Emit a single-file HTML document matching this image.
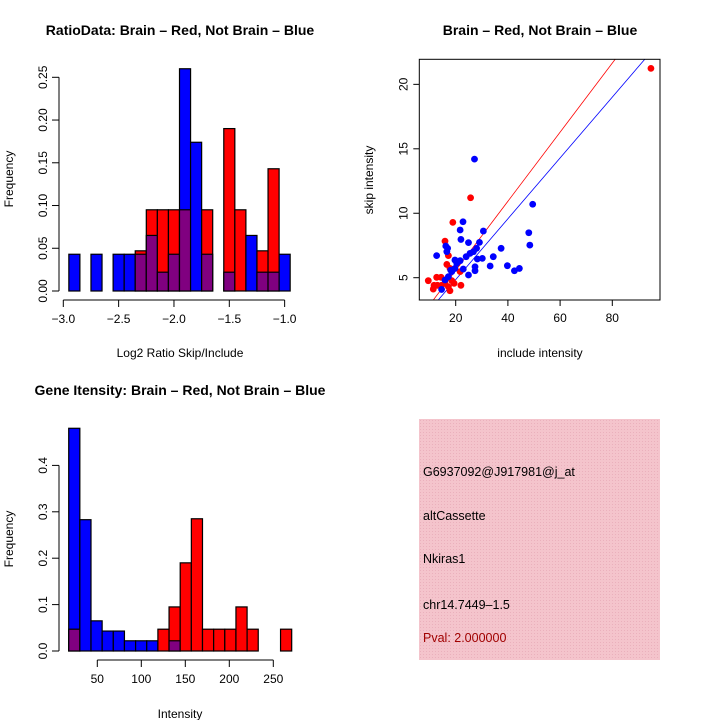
<!DOCTYPE html>
<html><head><meta charset="utf-8"><style>
body{margin:0;background:#fff}
svg{display:block;font-family:"Liberation Sans",sans-serif}
</style></head><body>
<svg id="s" width="720" height="720" viewBox="0 0 720 720">
<rect width="720" height="720" fill="#fff"/>
<defs><pattern id="hatch" width="3" height="3" patternUnits="userSpaceOnUse"><rect width="3" height="3" fill="#f4c4cc"/><rect width="1" height="1" fill="#eab0bc"/></pattern></defs>
<g id="p1"></g>
<g id="p2"></g>
<g id="p3"></g>
<g>
<rect x="419" y="419" width="241" height="241" fill="url(#hatch)"/>
<text x="423" y="476" font-size="12.5">G6937092@J917981@j_at</text>
<text x="423" y="520" font-size="12.5">altCassette</text>
<text x="423" y="563" font-size="12.5">Nkiras1</text>
<text x="423" y="609" font-size="12.5">chr14.7449–1.5</text>
<text x="423" y="642" font-size="12.5" fill="#a00000">Pval: 2.000000</text>
</g>
</svg>
<script>
// ---- Ratio histogram data ----
const ratioBinStart = -2.95;
const ratioBinWidth = 0.1;
const ratioBlue = [0.043,0,0.043,0,0.043,0.043,0.043,0.065,0.022,0.043,0.26,0.174,0.043,0,0.022,0,0.065,0.022,0.022,0.043];
const ratioRed = [0,0,0,0,0,0,0.047,0.095,0.095,0.095,0.095,0,0.095,0,0.19,0.095,0,0.047,0.143,0];
const ratioXTicks = [-3.0,-2.5,-2.0,-1.5,-1.0];
const ratioXTickLabels = ["−3.0","−2.5","−2.0","−1.5","−1.0"];
const ratioYTicks = [0,0.05,0.10,0.15,0.20,0.25];
const ratioYTickLabels = ["0.00","0.05","0.10","0.15","0.20","0.25"];
// ---- Gene intensity histogram data ----
const geneBinStart = 17.5;
const geneBinWidth = 12.67;
const geneBlue = [0.48,0.283,0.065,0.043,0.043,0.022,0.022,0.022,0,0.022,0,0,0,0,0,0,0,0,0,0];
const geneRed = [0.047,0,0,0,0,0,0,0,0.047,0.095,0.19,0.285,0.047,0.047,0.047,0.095,0.047,0,0,0.047];
const geneXTicks = [50,100,150,200,250];
const geneYTicks = [0,0.1,0.2,0.3,0.4];
const geneYTickLabels = ["0.0","0.1","0.2","0.3","0.4"];
// ---- Scatter data ----
const redX = [9.5,11.4,12.7,14.4,11.7,13.0,14.6,15.9,17.2,16.6,18.9,17.8,18.5,19.4,17.8,22.0,25.7,21.7,94.8,15.9,17.2,20.6];
const redY = [4.77,4.12,5.03,5.03,4.41,4.41,4.41,7.84,6.71,6.03,9.29,5.72,4.77,4.56,3.99,4.41,11.2,5.47,21.24,4.56,4.30,6.11];
const blueX = [27.2,22.8,21.7,22.0,30.6,49.5,48.0,48.4,12.7,16.2,16.6,16.9,24.9,29.1,28.0,26.8,28.3,30.2,24.0,34.4,37.4,33.2,39.8,42.5,44.4,27.4,27.4,24.9,22.9,21.7,20.4,19.7,18.1,17.2,15.9,14.6,18.5,25.5,19.7];
const blueY = [14.2,9.34,8.70,7.97,8.62,10.7,8.49,7.53,6.71,7.46,7.02,7.28,7.72,7.74,7.28,7.02,6.45,6.50,6.63,6.63,7.28,5.91,5.93,5.54,5.72,5.85,5.54,5.21,5.67,6.32,6.11,5.72,5.59,5.08,4.82,4.09,5.47,6.89,6.37];
const redFit = [0.21,0.268];
const blueFit = [0.13,0.236];
const scatterXTicks = [20,40,60,80];
const scatterYTicks = [5,10,15,20];

const NS="http://www.w3.org/2000/svg";
function mk(parent,tag,attrs,text){const e=document.createElementNS(NS,tag);for(const k in attrs)e.setAttribute(k,attrs[k]);if(text!==undefined)e.textContent=text;parent.appendChild(e);return e;}

function histogram(g,o){
  const X=v=>o.x0+(v-o.xv0)*o.xs, Y=v=>o.y0-v*o.ys;
  for(let i=0;i<o.blue.length;i++){
    const b=o.blue[i], r=o.red[i];
    const xl=X(o.start+i*o.width), xr=X(o.start+(i+1)*o.width);
    const hi=Math.max(b,r), lo=Math.min(b,r);
    if(hi>0){
      const e=mk(g,'rect',{x:xl,y:Y(hi),width:xr-xl,height:Y(0)-Y(hi),fill:b>=r?'#0000ff':'#ff0000',stroke:'#000','stroke-width':1.2});
      
      
    }
    if(lo>0){
      const e=mk(g,'rect',{x:xl,y:Y(lo),width:xr-xl,height:Y(0)-Y(lo),fill:'#800080',stroke:'#000','stroke-width':1.2});
      
      
    }
  }
  // y axis
  const ya=mk(g,'g',{});
  
  
  mk(ya,'line',{x1:o.yax,x2:o.yax,y1:Y(o.yt[0]),y2:Y(o.yt[o.yt.length-1]),stroke:'#000'});
  o.yt.forEach((v,i)=>{
    mk(ya,'line',{x1:o.yax-7,x2:o.yax,y1:Y(v),y2:Y(v),stroke:'#000'});
    const t=mk(ya,'text',{x:0,y:0,'font-size':12,'text-anchor':'middle',transform:`translate(${o.yax-12},${Y(v)}) rotate(-90)`},o.ytl[i]);
    
    
  });
  const xa=mk(g,'g',{});
  
  
  mk(xa,'line',{x1:X(o.xt[0]),x2:X(o.xt[o.xt.length-1]),y1:o.xay,y2:o.xay,stroke:'#000'});
  o.xt.forEach((v,i)=>{
    mk(xa,'line',{x1:X(v),x2:X(v),y1:o.xay,y2:o.xay+7,stroke:'#000'});
    const t=mk(xa,'text',{x:X(v),y:o.xay+23,'font-size':12,'text-anchor':'middle'},o.xtl[i]);
    
    
  });
}

const p1=document.getElementById('p1');
histogram(p1,{x0:63.3,xv0:-3,xs:110.67,y0:291,ys:854.8,start:ratioBinStart,width:ratioBinWidth,blue:ratioBlue,red:ratioRed,yt:ratioYTicks,ytl:ratioYTickLabels,xt:ratioXTicks,xtl:ratioXTickLabels,yax:59,xay:300});
let t=mk(p1,'text',{x:180,y:35,'font-size':14,'font-weight':'bold','text-anchor':'middle'},'RatioData: Brain – Red, Not Brain – Blue');

t=mk(p1,'text',{x:180,y:357,'font-size':12,'text-anchor':'middle'},'Log2 Ratio Skip/Include');

t=mk(p1,'text',{x:0,y:0,'font-size':12,'text-anchor':'middle',transform:'translate(13,179) rotate(-90)'},'Frequency');


const p3=document.getElementById('p3');
histogram(p3,{x0:97.3,xv0:50,xs:0.88,y0:651,ys:464,start:geneBinStart,width:geneBinWidth,blue:geneBlue,red:geneRed,yt:geneYTicks,ytl:geneYTickLabels,xt:geneXTicks,xtl:geneXTicks.map(String),yax:59,xay:660});
t=mk(p3,'text',{x:180,y:395,'font-size':14,'font-weight':'bold','text-anchor':'middle'},'Gene Itensity: Brain – Red, Not Brain – Blue');

t=mk(p3,'text',{x:180,y:718,'font-size':12,'text-anchor':'middle'},'Intensity');

t=mk(p3,'text',{x:0,y:0,'font-size':12,'text-anchor':'middle',transform:'translate(13,539) rotate(-90)'},'Frequency');


// scatter
const p2=document.getElementById('p2');
const SX=v=>455.7+(v-20)*2.61, SY=v=>277.7-(v-5)*12.89;
const bx={l:419.3,r:660,t:59.3,b:300};
const cp=mk(p2,'clipPath',{id:'clip'});mk(cp,'rect',{x:bx.l,y:bx.t,width:bx.r-bx.l,height:bx.b-bx.t});
[[redFit,'#ff0000','red-fit-line'],[blueFit,'#0000ff','blue-fit-line']].forEach(([f,c,n])=>{
  const x1=0,x2=100;
  const l=mk(p2,'line',{x1:SX(x1),y1:SY(f[0]+f[1]*x1),x2:SX(x2),y2:SY(f[0]+f[1]*x2),stroke:c,'stroke-width':0.8,'clip-path':'url(#clip)'});
  
  
});
redX.forEach((v,i)=>{const c=mk(p2,'circle',{cx:SX(v),cy:SY(redY[i]),r:3.4,fill:'#ff0000'});
  
  });
blueX.forEach((v,i)=>{const c=mk(p2,'circle',{cx:SX(v),cy:SY(blueY[i]),r:3.4,fill:'#0000ff'});
  
  });
const fr=mk(p2,'rect',{x:bx.l,y:bx.t,width:bx.r-bx.l,height:bx.b-bx.t,fill:'none',stroke:'#000'});

scatterXTicks.forEach(v=>{mk(p2,'line',{x1:SX(v),x2:SX(v),y1:bx.b,y2:bx.b+6,stroke:'#000'});
  const e=mk(p2,'text',{x:SX(v),y:bx.b+22,'font-size':12,'text-anchor':'middle'},String(v));
  });
scatterYTicks.forEach(v=>{mk(p2,'line',{x1:bx.l-6,x2:bx.l,y1:SY(v),y2:SY(v),stroke:'#000'});
  const e=mk(p2,'text',{x:0,y:0,'font-size':12,'text-anchor':'middle',transform:`translate(${bx.l-12},${SY(v)}) rotate(-90)`},String(v));
  });
t=mk(p2,'text',{x:540,y:35,'font-size':14,'font-weight':'bold','text-anchor':'middle'},'Brain – Red, Not Brain – Blue');

t=mk(p2,'text',{x:540,y:357,'font-size':12,'text-anchor':'middle'},'include intensity');

t=mk(p2,'text',{x:0,y:0,'font-size':12,'text-anchor':'middle',transform:'translate(373,180) rotate(-90)'},'skip intensity');

</script>
</body></html>
